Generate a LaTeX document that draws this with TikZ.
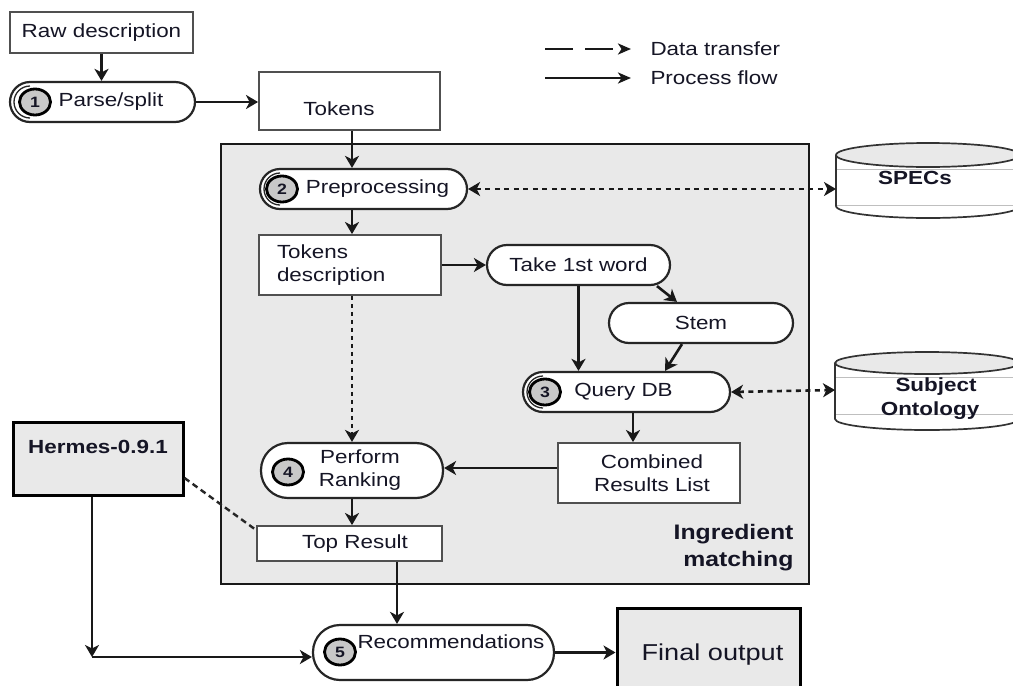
\documentclass[tikz,border=0pt]{standalone}
\usepackage{fontspec}
\setmainfont{Liberation Sans}[FakeStretch=1.18]
\usetikzlibrary{arrows.meta,shapes.geometric}
\definecolor{boxgray}{HTML}{E9E9E9}
\definecolor{numgray}{HTML}{C8C8C8}
\definecolor{bord}{HTML}{505050}
\definecolor{txt}{HTML}{151525}
\tikzset{
  every node/.style={font=\fontsize{19}{23}\selectfont, text=txt},
  plainbox/.style={draw=bord, line width=1.9pt, fill=white, inner sep=0pt},
  darkbox/.style={draw=black, line width=3pt, fill=boxgray, inner sep=0pt},
  pill/.style={draw=black!85, line width=2.2pt, fill=white, rounded corners=20pt, inner sep=0pt, minimum height=40pt},
  tallpill/.style={pill, rounded corners=27pt, minimum height=55pt},
  numc/.style={ellipse, draw=black, line width=2.8pt, fill=numgray, minimum width=31pt, minimum height=26pt, inner sep=0pt, font=\fontsize{15}{15}\selectfont\bfseries},
  innerring/.style={draw=black!85, line width=1.3pt},
  flow/.style={-{Stealth[length=12pt,width=14pt,inset=3.5pt]}, line width=2.6pt, black!90},
  data/.style={{Stealth[length=12pt,width=14pt,inset=3.5pt]}-{Stealth[length=12pt,width=14pt,inset=3.5pt]}, line width=2.6pt, dash pattern=on 5pt off 4.5pt, black!90},
  dotflow/.style={-{Stealth[length=12pt,width=14pt,inset=3.5pt]}, line width=2.8pt, dash pattern=on 4pt off 4pt, black!90},
  hdash/.style={line width=2.4pt, dash pattern=on 6pt off 4pt, black!85},
  legdash/.style={-{Stealth[length=13pt,width=11pt,inset=3.5pt]}, line width=2.4pt, dash pattern=on 28pt off 12pt, black!90},
  legflow/.style={-{Stealth[length=13pt,width=11pt,inset=3.5pt]}, line width=2.4pt, black!90},
  bold/.style={font=\fontsize{19}{24}\selectfont\bfseries}
}
\begin{document}
\begin{tikzpicture}[x=1pt,y=-1pt]
\useasboundingbox (0,0) rectangle (1013,686);
\clip (0,0) rectangle (1013,686);
\fill[white] (0,0) rectangle (1013,686);

% region
\node[draw=black!90, line width=1.6pt, fill=boxgray, minimum width=588pt, minimum height=440pt, inner sep=0pt] (region) at (515,364) {};
\node[anchor=east, align=right, font=\fontsize{21}{27}\selectfont\bfseries] (ingr) at (797,548) {Ingredient\\matching};

% legend
\node[anchor=west] (ldt) at (647,49) {Data transfer};
\node[anchor=west] (lpf) at (647,78) {Process flow};
\coordinate (ld) at (545,49);
\coordinate (lp) at (545,78);
\draw[legdash] (ld) -- ([xshift=-16pt]ldt.west);
\draw[legflow] (lp) -- ([xshift=-16pt]lpf.west);

% cylinders
\fill[white] (836,155) rectangle (1020,206);
\fill[white] (928,206) ellipse [x radius=92, y radius=12];
\draw[black!25, line width=0.9pt] (837,169) -- (1013,169);
\draw[black!25, line width=0.9pt] (837,205) -- (1013,205);
\draw[black!80, line width=1.7pt] (836,155) -- (836,206) arc[start angle=180, end angle=0, x radius=92, y radius=12] -- (1020,155);
\draw[black!80, line width=1.7pt, fill=boxgray] (928,155) ellipse [x radius=92, y radius=12];
\node[bold] (specs) at (915,178) {SPECs};
\coordinate (specsin) at (836,189);

\fill[white] (835,363) rectangle (1019,419);
\fill[white] (927,419) ellipse [x radius=92, y radius=11];
\draw[black!25, line width=0.9pt] (836,377) -- (1013,377);
\draw[black!25, line width=0.9pt] (836,414) -- (1013,414);
\draw[black!80, line width=1.7pt] (835,363) -- (835,419) arc[start angle=180, end angle=0, x radius=92, y radius=11] -- (1019,363);
\draw[black!80, line width=1.7pt, fill=boxgray] (927,363) ellipse [x radius=92, y radius=11];
\node[bold, align=center] (onto) at (930,399) {\hspace*{12pt}Subject\\Ontology};
\coordinate (ontoin) at (835,390);

% top left
\node[plainbox, minimum width=183pt, minimum height=41pt] (raw) at (101.5,32.5) {Raw description};
\node[pill, minimum width=185pt] (parse) at (102.5,102) {\hspace*{17pt}Parse/split};
\draw[innerring] (30,118) arc[start angle=90, end angle=270, radius=16];
\node[numc] (n1) at (35,102) {1};

\node[plainbox, minimum width=181pt, minimum height=58pt] (tok) at (349.5,101) {\hspace*{-21pt}\raisebox{-14pt}[0pt][0pt]{Tokens}};

% ingredient matching
\node[pill, minimum width=207pt] (pre) at (363.5,189) {\hspace*{28pt}Preprocessing};
\draw[innerring] (280,205) arc[start angle=90, end angle=270, radius=16];
\node[numc] (n2) at (282,189) {2};

\node[plainbox, minimum width=182pt, minimum height=60pt, inner xsep=18pt, text width=146pt, align=left] (tdesc) at (350,265) {Tokens\\description};

\node[pill, minimum width=183pt] (take) at (578.5,265) {Take 1st word};
\node[pill, minimum width=184pt] (stem) at (701,323) {Stem};

\node[pill, minimum width=207pt] (qdb) at (626.5,392) {\hspace*{-6pt}Query DB};
\draw[innerring] (543,408) arc[start angle=90, end angle=270, radius=16];
\node[numc] (n3) at (545,392) {3};

\node[plainbox, minimum width=182pt, minimum height=60pt, align=center] (comb) at (649,473) {\hspace*{6pt}Combined\\\hspace*{6pt}Results List};

\node[tallpill, minimum width=182pt, align=center] (rank) at (352,470.5) {\hspace*{16pt}Perform\\\hspace*{16pt}Ranking};
\node[numc] (n4) at (288,472) {4};

\node[plainbox, minimum width=185pt, minimum height=35pt] (top) at (349.5,543.5) {\hspace*{11pt}Top Result};

% bottom
\node[darkbox, minimum width=170pt, minimum height=73pt, font=\fontsize{19}{23}\selectfont\bfseries] (hermes) at (98,458.5) {\raisebox{5.5pt}[0pt][0pt]{Hermes-0.9.1}};

\node[tallpill, minimum width=241pt] (rec) at (433.5,652.5) {\hspace*{35pt}\raisebox{4.5pt}[0pt][0pt]{Recommendations}};
\node[numc] (n5) at (340,652) {5};

\node[darkbox, minimum width=183pt, minimum height=104pt, font=\fontsize{23}{27}\selectfont] (final) at (708.5,660) {\hspace*{8pt}\raisebox{0pt}[0pt][0pt]{Final output}};

\coordinate (corner) at (92,657);

% connectors
\draw[flow] (raw.south) -- (raw.south |- parse.north);
\draw[flow] (parse.east) -- (parse.east -| tok.west);
\draw[flow] ([xshift=2.5pt]tok.south) -- ([xshift=2.5pt]tok.south |- pre.north);
\draw[flow] ([xshift=-11.5pt]pre.south) -- ([xshift=-11.5pt]pre.south |- tdesc.north);
\draw[flow] (tdesc.east) -- (tdesc.east -| take.west);
\draw[flow] ([xshift=78.5pt]take.south) -- ([xshift=-24pt]stem.north);
\draw[flow] (take.south) -- (take.south |- qdb.north);
\draw[flow] ([xshift=-19pt]stem.south) -- ([xshift=38.5pt]qdb.north);
\draw[flow] ([xshift=6.5pt]qdb.south) -- ([xshift=6.5pt]qdb.south |- comb.north);
\draw[flow] ([yshift=5pt]comb.west) -- ([yshift=5pt]comb.west -| rank.east);
\draw[dotflow] ([xshift=2pt]tdesc.south) -- ([xshift=2pt]tdesc.south |- rank.north);
\draw[flow] (rank.south) -- (rank.south |- top.north);
\draw[hdash] ([yshift=-19.5pt]hermes.east) -- ([yshift=13.5pt]top.west);
\draw[flow] ([xshift=47.5pt]top.south) -- ([xshift=47.5pt]top.south |- rec.north);
\draw[flow] (hermes.south -| corner) -- (corner);
\draw[flow] (corner) -- (corner -| rec.west);
\draw[flow] (rec.east) -- (rec.east -| final.west);
\draw[data] (pre.east) -- (specsin);
\draw[data] (qdb.east) -- (ontoin);
\end{tikzpicture}
\end{document}
